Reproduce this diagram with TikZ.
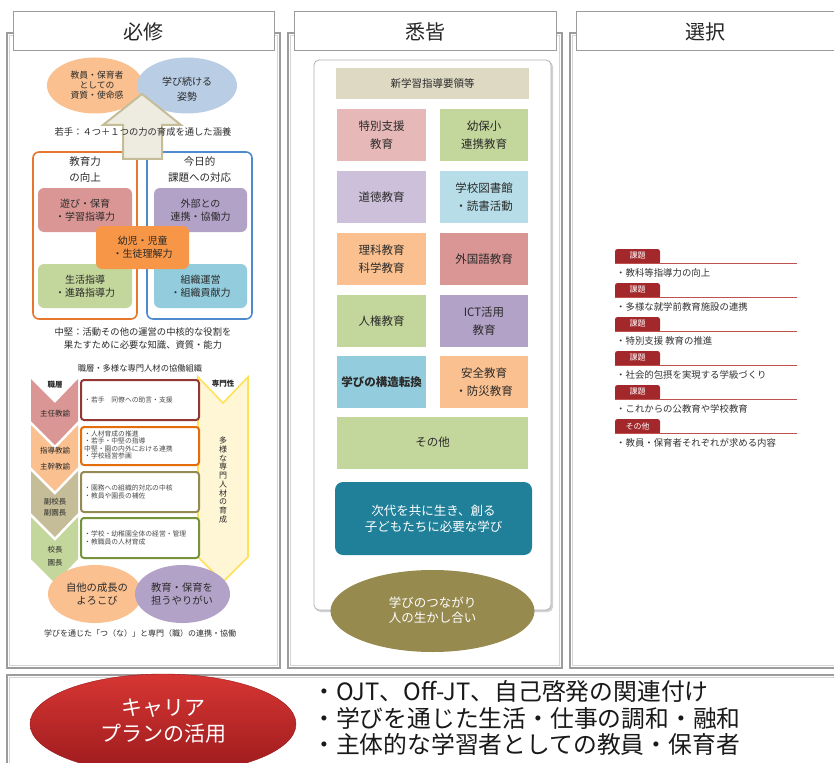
\documentclass[tikz,border=0pt]{standalone}
\usepackage{fontspec}
\setmainfont{Noto Sans CJK JP}
\usetikzlibrary{shapes.geometric}
\newcommand{\fsz}[2]{\fontsize{#1}{#2}\selectfont}
\definecolor{frameG}{HTML}{9C9C9C}
\definecolor{frameL}{HTML}{D4D4D4}
\definecolor{ellOr}{HTML}{FAC090}
\definecolor{ellBl}{HTML}{B9CDE5}
\definecolor{arrF}{HTML}{EEECE1}
\definecolor{arrD}{HTML}{C4BD97}
\definecolor{bOr}{HTML}{E8772E}
\definecolor{bBl}{HTML}{4F8ACF}
\definecolor{cPink}{HTML}{D99694}
\definecolor{cPur}{HTML}{B3A2C7}
\definecolor{cOrg}{HTML}{F79646}
\definecolor{cGrn}{HTML}{C3D69B}
\definecolor{cCya}{HTML}{93CDDD}
\definecolor{cKha}{HTML}{C4BD97}
\definecolor{kRed}{HTML}{943634}
\definecolor{kOrg}{HTML}{E46C0A}
\definecolor{kKha}{HTML}{948A54}
\definecolor{kGrn}{HTML}{77933C}
\definecolor{yF}{HTML}{FFF6D5}
\definecolor{yD}{HTML}{FFE15A}
\definecolor{mHead}{HTML}{DDD9C3}
\definecolor{mPinkL}{HTML}{E6B9B8}
\definecolor{mLav}{HTML}{CCC0DA}
\definecolor{mLBl}{HTML}{B7DEE8}
\definecolor{mTeal}{HTML}{20809A}
\definecolor{mOlive}{HTML}{968A4E}
\definecolor{tagR}{HTML}{A3282B}
\definecolor{tagL}{HTML}{C0504D}
\definecolor{redA}{HTML}{D63633}
\definecolor{redB}{HTML}{9C1A1D}
\definecolor{txt}{HTML}{2A2A2A}
\begin{document}
\begin{tikzpicture}[x=1pt,y=-1pt,
  every node/.style={inner sep=0pt,align=center,text=txt},
  colframe/.style={draw=frameG,line width=1.4pt},
  colinner/.style={draw=frameL,line width=0.8pt},
  headbox/.style={draw=frameG,line width=1pt,fill=white},
  headtxt/.style={font=\fsz{20}{24},text=black!85},
  rbox/.style={rounded corners=6pt},
  ltxt/.style={font=\fsz{10}{13}},
  gbox/.style={minimum width=89pt,minimum height=52pt,font=\fsz{11.5}{18}},
  chev/.style={draw=white,line width=0.8pt},
  chtxt/.style={font=\fsz{7.5}{10}},
  wbox/.style={draw,fill=white,line width=2pt,rounded corners=3pt,minimum width=118pt,minimum height=40pt},
  smtxt/.style={font=\fsz{6.8}{7.4},align=left,text=black!70}
]
\useasboundingbox (0,0) rectangle (834,762);
\fill[white] (0,0) rectangle (834,762);

% column frames
\foreach \a/\b in {7/280,288/562,570/845}{
  \draw[colframe] (\a,33) rectangle (\b,668);
  \draw[colinner] (\a+2.5,35.5) rectangle (\b-2.5,665.5);
}
\draw[colframe] (7,675) rectangle (845,775);
\draw[colinner] (9.5,677.5) rectangle (842,775);

% headers
\node[headbox,minimum width=261pt,minimum height=39pt] (hA) at (143.5,31.5) {};
\node[headtxt] (hAt) at (143.5,31.5) {必修};
\node[headbox,minimum width=262pt,minimum height=39pt] (hB) at (425,31.5) {};
\node[headtxt] (hBt) at (425,31.5) {悉皆};
\node[headbox,minimum width=270pt,minimum height=39pt] (hC) at (711,31.5) {};
\node[headtxt] (hCt) at (705,31.5) {選択};

% ===== LEFT COLUMN =====
\fill[ellOr] (95,85.5) ellipse [x radius=48pt,y radius=28pt];
\node[font=\fsz{8.8}{9.8}] (eA) at (97,85) {教員・保育者\\としての\\資質・使命感};
\fill[ellBl] (187,85.5) ellipse [x radius=50pt,y radius=28pt];
\node[font=\fsz{10}{15}] (eB) at (187,89.5) {学び続ける\\姿勢};

% outer boxes
\node[rbox,draw=bOr,line width=1.6pt,fill=white,minimum width=104pt,minimum height=167pt] (boxL) at (85,235.5) {};
\node[rbox,draw=bBl,line width=1.6pt,fill=white,minimum width=105pt,minimum height=167pt] (boxR) at (199.5,235.5) {};
\node[font=\fsz{10.5}{16}] (tL) at (85,170) {教育力\\の向上};
\node[font=\fsz{10.5}{16}] (tR) at (199.5,170) {今日的\\課題への対応};

\node[rbox,fill=cPink,minimum width=94pt,minimum height=44pt,ltxt] (pk) at (85,210) {遊び・保育\\・学習指導力};
\node[rbox,fill=cPur,minimum width=93pt,minimum height=44pt,ltxt] (pu) at (200.5,210) {外部との\\連携・協働力};
\node[rbox,fill=cGrn,minimum width=94pt,minimum height=44pt,ltxt] (gr) at (85,286) {生活指導\\・進路指導力};
\node[rbox,fill=cCya,minimum width=93pt,minimum height=44pt,ltxt] (cy) at (200.5,286) {組織運営\\・組織貢献力};
\node[rbox,fill=cOrg,minimum width=93pt,minimum height=43pt,ltxt] (og) at (142.5,247.5) {幼児・児童\\・生徒理解力};

% big up arrow
\draw[fill=arrF,draw=arrD,line width=2pt,line join=miter]
  (142,94) -- (181,125) -- (162,125) -- (162,159) -- (123,159) -- (123,125) -- (103,125) -- cycle;
\node[font=\fsz{9.3}{12}] (wakate) at (143,132) {若手：４つ＋１つの力の育成を通した涵養};

\node[font=\fsz{9.3}{13.5}] (chuken) at (143,338.5) {中堅：活動その他の運営の中核的な役割を\\果たすために必要な知識、資質・能力};
\node[font=\fsz{8.3}{10}] (shokuso) at (140,368) {職層・多様な専門人材の協働組織};

% chevrons
\foreach \i/\c in {0/cPink,1/ellOr,2/cKha,3/cGrn}{
  \pgfmathsetmacro{\yo}{379+46*\i}
  \fill[\c] (31,\yo) -- (55,\yo+24) -- (78,\yo) -- (78,\yo+42) -- (55,\yo+66) -- (31,\yo+42) -- cycle;
}
\node[chtxt,font=\fsz{7.5}{10}\bfseries] (c0a) at (55,385) {職層};
\node[chtxt] (c0b) at (55,414) {主任教諭};
\node[chtxt,font=\fsz{7.5}{16}] (c1) at (55,459) {指導教諭\\主幹教諭};
\node[chtxt,font=\fsz{7.5}{11}] (c2) at (55,507.5) {副校長\\副園長};
\node[chtxt,font=\fsz{7.5}{13}] (c3) at (55,556.5) {校長\\園長};

% right yellow arrow
\draw[fill=yF,draw=yD,line width=1.6pt,line join=miter]
  (198,377) -- (223,403) -- (248,377) -- (248,557) -- (223,582) -- (198,557) -- cycle;
\node[font=\fsz{7.5}{9}\bfseries] (senmon) at (223,384) {専門性};
\node[font=\fsz{8}{8.7}] (tate) at (223,480) {多\\様\\な\\専\\門\\人\\材\\の\\育\\成};

% white boxes
\node[wbox,draw=kRed] (w1) at (140,400) {};
\node[wbox,draw=kOrg,minimum height=38pt] (w2) at (140,446) {};
\node[wbox,draw=kKha] (w3) at (140,492) {};
\node[wbox,draw=kGrn] (w4) at (140,538) {};
\node[smtxt,anchor=west] (w1t) at (84,400) {・若手　同僚への助言・支援};
\node[smtxt,anchor=west] (w2t) at (84,445) {・人材育成の推進\\・若手・中堅の指導\\中堅・園の内外における連携\\・学校経営参画};
\node[smtxt,anchor=west] (w3t) at (84,492) {・園務への組織的対応の中核\\・教員や園長の補佐};
\node[smtxt,anchor=west] (w4t) at (84,538) {・学校・幼稚園全体の経営・管理\\・教職員の人材育成};

% bottom ellipses
\fill[ellOr] (95,594) ellipse [x radius=47pt,y radius=29pt];
\fill[cPur] (182.5,594) ellipse [x radius=47.5pt,y radius=29pt];
\node[font=\fsz{10.3}{12.5}] (eC) at (97,594) {自他の成長の\\よろこび};
\node[font=\fsz{10.3}{12.5}] (eD) at (182,594) {教育・保育を\\担うやりがい};
\node[font=\fsz{8}{10}] (manabi) at (140,633) {学びを通じた「つ（な）」と専門（職）の連携・協働};

% ===== MIDDLE COLUMN =====
\fill[black!18,rounded corners=5pt] (315.5,61.5) rectangle (553,612);
\draw[draw=black!30,fill=white,rounded corners=5pt,line width=0.8pt] (314,60) rectangle (551,610);
\node[fill=mHead,minimum width=193pt,minimum height=31pt,font=\fsz{10.5}{12}] (shin) at (432.5,83.5) {新学習指導要領等};
\node[gbox,fill=mPinkL] (g1) at (381.5,135) {特別支援\\教育};
\node[gbox,fill=cGrn,minimum width=88pt] (g2) at (484,135) {幼保小\\連携教育};
\node[gbox,fill=mLav] (g3) at (381.5,197) {道徳教育};
\node[gbox,fill=mLBl,minimum width=88pt] (g4) at (484,197) {学校図書館\\・読書活動};
\node[gbox,fill=ellOr] (g5) at (381.5,259) {理科教育\\科学教育};
\node[gbox,fill=cPink,minimum width=88pt] (g6) at (484,259) {外国語教育};
\node[gbox,fill=cGrn] (g7) at (381.5,321) {人権教育};
\node[gbox,fill=cPur,minimum width=88pt] (g8) at (484,321) {ICT活用\\教育};
\node[gbox,fill=cCya,font=\fsz{11.5}{18}\bfseries] (g9) at (381.5,382) {学びの構造転換};
\node[gbox,fill=ellOr,minimum width=88pt] (g10) at (484,382) {安全教育\\・防災教育};
\node[gbox,fill=cGrn,minimum width=191pt] (g11) at (432.5,442.5) {その他};
\node[fill=mTeal,rounded corners=8pt,minimum width=197pt,minimum height=73pt,text=white,font=\fsz{12.5}{16}] (teal) at (433.5,518.5) {次代を共に生き、創る\\子どもたちに必要な学び};
\fill[mOlive] (432.5,611) ellipse [x radius=102pt,y radius=41pt];
\node[text=white,font=\fsz{12.5}{15.5}] (olive) at (432.5,610) {学びのつながり\\人の生かし合い};

% ===== RIGHT COLUMN =====
\foreach \i/\lab/\t in {0/課題/・教科等指導力の向上,1/課題/・多様な就学前教育施設の連携,2/課題/・特別支援 教育の推進,3/課題/・社会的包摂を実現する学級づくり,4/課題/・これからの公教育や学校教育,5/その他/・教員・保育者それぞれが求める内容}{
  \pgfmathsetmacro{\yt}{249+34*\i}
  \fill[tagR,rounded corners=2.5pt] (615,\yt+14) -- (615,\yt) -- (660,\yt) -- (660,\yt+14) -- cycle;
  \fill[tagR] (615,\yt+8) rectangle (660,\yt+14);
  \draw[tagL,line width=1pt] (615,\yt+14.5) -- (797,\yt+14.5);
  \node[text=white,font=\fsz{8}{9}] (tag\i) at (637.5,\yt+7) {\lab};
  \node[anchor=west,font=\fsz{9.4}{10},text=black!80] (item\i) at (616,\yt+24) {\t};
}

% ===== BOTTOM =====
\shade[top color=redA,bottom color=redB,draw=redB] (163,724) ellipse [x radius=133pt,y radius=50pt];
\node[text=white,font=\fsz{21}{26}] (career) at (163,721) {キャリア\\プランの活用};
\node[anchor=west,align=left,font=\fsz{23.8}{26.5},text=black!90] (bullets) at (312,718)
  {・OJT、Off-JT、自己啓発の関連付け\\・学びを通じた生活・仕事の調和・融和\\・主体的な学習者としての教員・保育者};
\end{tikzpicture}
\end{document}
